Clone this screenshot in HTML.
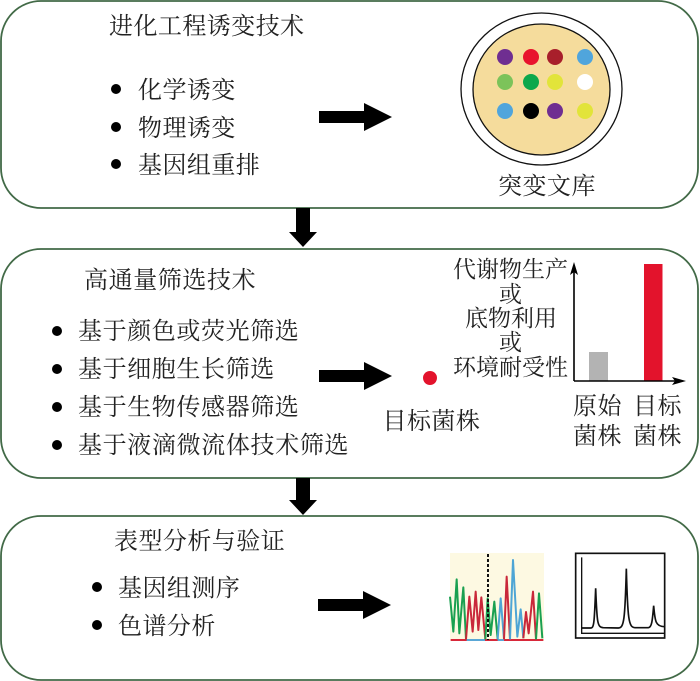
<!DOCTYPE html>
<html><head><meta charset="utf-8">
<style>
html,body{margin:0;padding:0;background:#fff}
svg{display:block}
text{font-family:"Liberation Serif","Noto Serif CJK SC",serif;font-size:24px;letter-spacing:.45px;fill:#222}
.s{font-size:23px;letter-spacing:0}
</style></head><body>
<svg width="700" height="681" viewBox="0 0 700 681" xmlns="http://www.w3.org/2000/svg">
<rect width="700" height="681" fill="#fff"/>
<g fill="#fff" stroke="#426a47" stroke-width="1.8">
<rect x="1" y="1" width="697" height="207" rx="40"/>
<rect x="1" y="249" width="697" height="229" rx="40"/>
<rect x="1" y="516" width="697" height="164" rx="40"/>
</g>
<!-- down arrows -->
<polygon points="296,208 310,208 310,232 317,232 303,247 289,232 296,232" fill="#000"/>
<polygon points="296,478 310,478 310,500 317,500 303,515 289,500 296,500" fill="#000"/>
<!-- right arrows -->
<polygon points="319,111 364,111 364,103 392,117 364,131 364,123 319,123" fill="#000"/>
<polygon points="319,370 364,370 364,362 392,376 364,390 364,382 319,382" fill="#000"/>
<polygon points="318,599 363,599 363,591 391,605 363,619 363,611 318,611" fill="#000"/>
<!-- bullets -->
<g fill="#000">
<circle cx="116" cy="89" r="5"/><circle cx="116" cy="127" r="5"/><circle cx="116" cy="164" r="5"/>
<circle cx="57" cy="331" r="5"/><circle cx="57" cy="369" r="5"/><circle cx="57" cy="407" r="5"/><circle cx="57" cy="445" r="5"/>
<circle cx="97" cy="587" r="5"/><circle cx="97" cy="625" r="5"/>
</g>
<!-- text -->
<text x="109" y="34">进化工程诱变技术</text>
<text x="138" y="98">化学诱变</text>
<text x="138" y="136">物理诱变</text>
<text x="138" y="173">基因组重排</text>
<text x="498" y="194">突变文库</text>
<text x="84" y="288" style="letter-spacing:.6px">高通量筛选技术</text>
<text x="78" y="339" style="letter-spacing:.6px">基于颜色或荧光筛选</text>
<text x="78" y="377" style="letter-spacing:.6px">基于细胞生长筛选</text>
<text x="78" y="415" style="letter-spacing:.6px">基于生物传感器筛选</text>
<text x="78" y="453" style="letter-spacing:.65px">基于液滴微流体技术筛选</text>
<text x="382.500" y="429">目标菌株</text>
<text x="114" y="549">表型分析与验证</text>
<text x="118" y="596">基因组测序</text>
<text x="118" y="634">色谱分析</text>
<text class="s" x="453" y="277">代谢物生产</text>
<text class="s" x="499" y="302">或</text>
<text class="s" x="465" y="326">底物利用</text>
<text class="s" x="499" y="350">或</text>
<text class="s" x="453" y="375">环境耐受性</text>
<text x="573" y="414">原始</text>
<text x="573" y="444">菌株</text>
<text x="633" y="414">目标</text>
<text x="633" y="444">菌株</text>
<!-- plate -->
<ellipse cx="541.500" cy="89" rx="80.500" ry="76" fill="#fff" stroke="#111" stroke-width="1.3"/>
<ellipse cx="541.500" cy="89.500" rx="68.500" ry="65.500" fill="#f5dc9c" stroke="#111" stroke-width="1.3"/>
<g>
<circle cx="505" cy="57" r="8" fill="#6f2e91"/><circle cx="531" cy="57" r="8" fill="#e8132d"/><circle cx="555" cy="57" r="8" fill="#a81f2b"/><circle cx="585" cy="57" r="8" fill="#50a5dc"/>
<circle cx="505" cy="82" r="8" fill="#7cc35a"/><circle cx="531" cy="82" r="8" fill="#0ca84c"/><circle cx="555" cy="82" r="8" fill="#e2e43a"/><circle cx="585" cy="82" r="8" fill="#fff"/>
<circle cx="505" cy="111" r="8" fill="#50a5dc"/><circle cx="531" cy="111" r="8" fill="#000"/><circle cx="555" cy="111" r="8" fill="#6f2e91"/><circle cx="585" cy="111" r="8" fill="#e2e43a"/>
</g>
<!-- target dot -->
<circle cx="430" cy="378" r="7" fill="#e3132c"/>
<!-- bar chart -->
<rect x="589" y="352" width="19" height="29" fill="#b3b3b3"/>
<rect x="644" y="264" width="18.500" height="117" fill="#e3132c"/>
<path d="M574 381V268M574 381H680" stroke="#000" stroke-width="1.6" fill="none"/>
<polygon points="574,262 578,275 574,272 570,275" fill="#000"/>
<polygon points="686,381 672,377 675,381 672,385" fill="#000"/>
<!-- sanger -->
<rect x="450" y="553" width="94" height="88" fill="#fdf9e2"/>
<g fill="none" stroke-linejoin="round" transform="translate(440,540) scale(.33333)">
<g stroke-width="6">
<path d="M32 300H310" stroke="#d8283a"/>
<path d="M80 300H135M173 300H192" stroke="#5aa7d6"/>
<path d="M30 170L40 275L50 118L58 280L70 142L78 298" stroke="#1aa050"/>
<path d="M78 298L88 170L98 275L107 155L115 270L124 172L136 298" stroke="#c9283a"/>
<path d="M136 298L143 175L152 285L163 185L173 298" stroke="#1aa050"/>
<path d="M173 298L182 175L192 298" stroke="#4ea5d5"/>
<path d="M192 298L200 110L210 298" stroke="#c9283a"/>
<path d="M210 298L219 60L232 290L242 208L250 295" stroke="#4ea5d5"/>
<path d="M250 295L258 216L266 280L279 155L288 298" stroke="#c9283a"/>
<path d="M288 298L297 160L307 295" stroke="#1aa050"/>
<path d="M144 42V300" stroke="#111" stroke-width="6" stroke-dasharray="9 6"/>
</g>
</g>
<!-- chromatogram -->
<g fill="none" stroke="#111" transform="translate(440,540) scale(.33333)">
<rect x="407" y="40" width="267" height="254" stroke-width="5"/>
<path d="M425 52V280H674" stroke-width="4"/>
<path d="M425 264H452C462 264 463 250 467 145C471 250 472 262 490 263L535 264C552 264 555 240 559 86C563 240 566 262 585 263L625 263C635 262 637 245 641 197C645 245 647 260 674 260" stroke-width="5"/>
</g>
</svg>
</body></html>
